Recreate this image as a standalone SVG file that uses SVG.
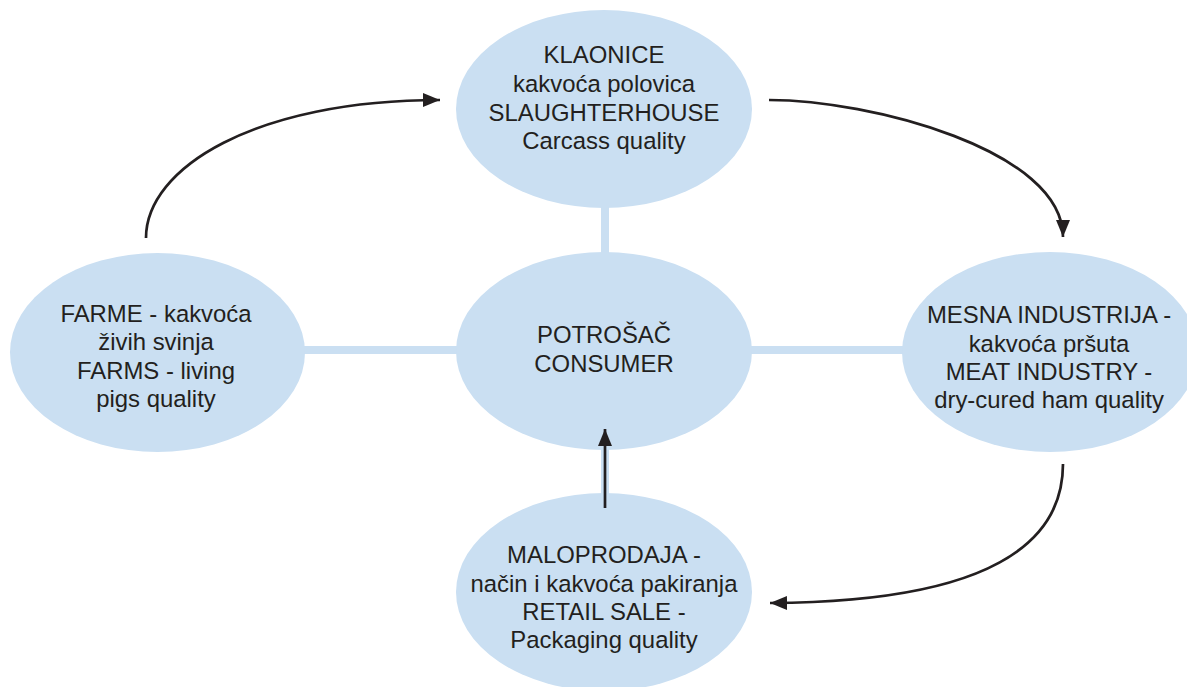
<svg xmlns="http://www.w3.org/2000/svg" width="1187" height="687" viewBox="0 0 1187 687">
<style>
.node{fill:#cadff2;}
.lbl{font-family:"Liberation Sans",Arial,sans-serif;font-size:23.9px;fill:#231f20;text-anchor:middle;}
.link{stroke:#cadff2;stroke-width:8;fill:none;}
.arrow{stroke:#231f20;stroke-width:2.7;fill:none;marker-end:url(#ah);}
</style>
<defs>
<marker id="ah" markerUnits="userSpaceOnUse" markerWidth="19" markerHeight="16" refX="17" refY="7.5" orient="auto">
<path d="M0,0.5 L17,7.5 L0,14.5 z" fill="#231f20"/>
</marker>
</defs>
<rect width="1187" height="687" fill="#ffffff"/>
<g id="links">
<line class="link" x1="300" y1="350" x2="460" y2="350"/>
<line class="link" x1="746" y1="350" x2="906" y2="350"/>
<line class="link" x1="605" y1="204" x2="605" y2="256"/>
<line class="link" x1="605" y1="446" x2="605" y2="497"/>
</g>
<g id="n-klaonice">
<ellipse class="node" cx="604" cy="109" rx="148" ry="99"/>
<text class="lbl" x="604" y="63.3">KLAONICE</text>
<text class="lbl" x="604" y="92">kakvoća polovica</text>
<text class="lbl" x="604" y="120.7">SLAUGHTERHOUSE</text>
<text class="lbl" x="604" y="149.4">Carcass quality</text>
</g>
<g id="n-potrosac">
<ellipse class="node" cx="604" cy="351" rx="148" ry="99"/>
<text class="lbl" x="604" y="342.7">POTROŠAČ</text>
<text class="lbl" x="604" y="372.3">CONSUMER</text>
</g>
<g id="n-farme">
<ellipse class="node" cx="157.5" cy="352.5" rx="147.5" ry="99.5"/>
<text class="lbl" x="156" y="321.7">FARME - kakvoća</text>
<text class="lbl" x="156" y="350.2">živih svinja</text>
<text class="lbl" x="156" y="378.5">FARMS - living</text>
<text class="lbl" x="156" y="406.8">pigs quality</text>
</g>
<g id="n-mesna">
<ellipse class="node" cx="1050" cy="352" rx="148" ry="100"/>
<text class="lbl" x="1049" y="323.3">MESNA INDUSTRIJA -</text>
<text class="lbl" x="1049" y="351.7">kakvoća pršuta</text>
<text class="lbl" x="1049" y="380">MEAT INDUSTRY -</text>
<text class="lbl" x="1049" y="408.3">dry-cured ham quality</text>
</g>
<g id="n-maloprodaja">
<ellipse class="node" cx="604" cy="592" rx="148" ry="99"/>
<text class="lbl" x="604" y="563.3">MALOPRODAJA -</text>
<text class="lbl" x="604" y="591.5">način i kakvoća pakiranja</text>
<text class="lbl" x="604" y="619.5">RETAIL SALE -</text>
<text class="lbl" x="604" y="648.3">Packaging quality</text>
</g>
<g id="arrows">
<path class="arrow" d="M146,238 C146,168 255,100 440,100"/>
<path class="arrow" d="M769,100 C870,100 1063,150 1063,237"/>
<path class="arrow" d="M1063,464 C1063,562 950,602 770,603"/>
<path class="arrow" d="M605,508 L605,429"/>
</g>
</svg>
